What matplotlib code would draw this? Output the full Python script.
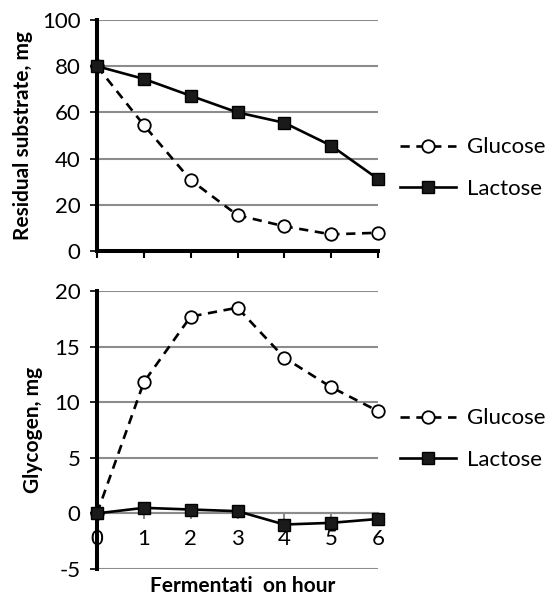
import matplotlib
matplotlib.use('Agg')
import matplotlib.pyplot as plt

plt.rcParams['font.family'] = ['Lato', 'DejaVu Sans']
plt.rcParams['axes.unicode_minus'] = False

# 数据
hours = [0, 1, 2, 3, 4, 5, 6]
substrate_glucose = [80, 54.5, 30.7, 15.5, 10.7, 7.2, 7.9]
substrate_lactose = [80, 74.5, 67.2, 60, 55.5, 45.6, 31.2]
glycogen_glucose = [0, 11.8, 17.7, 18.5, 14.0, 11.35, 9.2]
glycogen_lactose = [0, 0.5, 0.35, 0.2, -1.0, -0.85, -0.5]

top_yticks = [0, 20, 40, 60, 80, 100]
bottom_yticks = [-5, 0, 5, 10, 15, 20]

W, H = 549, 597
fig = plt.figure(figsize=(W / 100, H / 100), dpi=100)

left = 97 / W
width = 281 / W
ax1 = fig.add_axes([left, 1 - 251 / H, width, 231 / H])
ax2 = fig.add_axes([left, 1 - 569 / H, width, 278 / H])

grid_c = '#8c8c8c'
fs = 15
tfs = 16

def style_common(ax):
    ax.set_xlim(0, 6)
    ax.set_xticks(hours)
    ax.spines['top'].set_visible(False)
    ax.spines['right'].set_visible(False)
    ax.spines['left'].set_linewidth(2.9)
    ax.spines['left'].set_color('black')
    ax.grid(axis='y', color=grid_c, linewidth=1.5)
    ax.grid(axis='x', visible=False)
    ax.set_axisbelow(True)
    ax.tick_params(axis='y', length=5, width=1.2, color='black', pad=7, labelsize=tfs)

def draw(ax, g, l):
    ax.plot(hours, g, color='black', linewidth=1.9, linestyle=(0, (3.5, 2.5)),
            marker='o', markersize=9, markerfacecolor='white', markeredgecolor='black',
            markeredgewidth=1.3, label='Glucose', clip_on=False, zorder=5)
    ax.plot(hours, l, color='black', linewidth=1.9, marker='s', markersize=8.5,
            markerfacecolor='#1a1a1a', markeredgecolor='black', label='Lactose',
            clip_on=False, zorder=6)

# 上图：残余底物
style_common(ax1)
draw(ax1, substrate_glucose, substrate_lactose)
ax1.set_ylim(0, 100)
ax1.set_yticks(top_yticks)
ax1.spines['bottom'].set_linewidth(2.9)
ax1.spines['bottom'].set_color('black')
ax1.tick_params(axis='x', length=5, width=1.5, color='black', labelbottom=False)
ax1.set_ylabel('Residual substrate, mg', fontsize=fs, fontweight='bold')
ax1.yaxis.set_label_coords(-0.228, 0.5)

# 下图：糖原
style_common(ax2)
draw(ax2, glycogen_glucose, glycogen_lactose)
ax2.set_ylim(-5, 20)
ax2.set_yticks(bottom_yticks)
ax2.spines['bottom'].set_position(('data', 0))
ax2.spines['bottom'].set_color(grid_c)
ax2.spines['bottom'].set_linewidth(1.5)
ax2.tick_params(axis='x', length=4, width=1.5, color=grid_c, pad=7, labelsize=tfs)
ax2.set_ylabel('Glycogen, mg', fontsize=fs, fontweight='bold')
ax2.yaxis.set_label_coords(-0.193, 0.5)
ax2.set_xlabel('Fermentati  on hour', fontsize=fs, fontweight='bold')
ax2.xaxis.set_label_coords(0.52, -0.025)

# 图例
for ax, ytop in [(ax1, 147), (ax2, 418)]:
    ax.legend(loc='center left', bbox_to_anchor=(400 / W, 1 - (ytop + 21) / H),
              bbox_transform=fig.transFigure, frameon=False, fontsize=tfs,
              handlelength=2.5, handletextpad=0.5, labelspacing=0.95,
              borderpad=0, borderaxespad=0)

fig.savefig('out.png', dpi=100)
